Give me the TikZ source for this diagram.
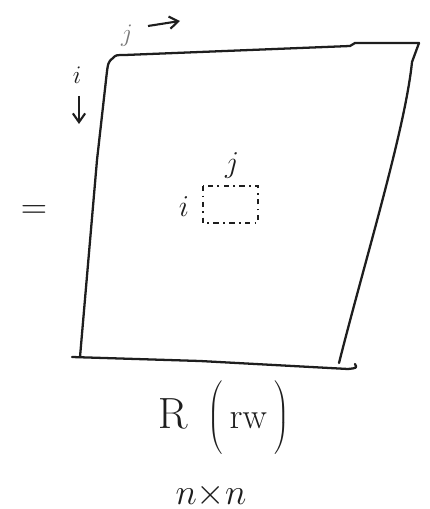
\documentclass[tikz,border=0pt]{standalone}
\usepackage{xcolor}
\definecolor{inkgray}{RGB}{30,30,30}
\definecolor{pencilgray}{RGB}{120,120,120}
\usepackage{tikz}
\usetikzlibrary{arrows.meta,positioning,calc}

\begin{document}
\begin{tikzpicture}[
  x=0.02cm, y=-0.02cm,
  ink/.style={draw=inkgray, line width=1.3pt, line cap=round, line join=round},
  arr/.style={-{Straight Barb[length=5pt,width=7pt]}, line width=1.2pt, color=inkgray},
  dbox/.style={draw=inkgray, line width=1.1pt, dash pattern=on 3pt off 2.5pt on 1pt off 2.5pt},
  lbl/.style={inner sep=0pt, text=inkgray}
]
\useasboundingbox (0,0) rectangle (429,509);

%% Matrix outline
\coordinate (tl) at (113,58);
\coordinate (tr) at (419,43);
\coordinate (br) at (339,363);
\coordinate (bl) at (80,357);
\draw[ink] (tl) .. controls (108,62) .. (106,80) -- (97,160) -- (bl);
\draw[ink] (tl) .. controls (116,55) .. (125,55) -- (350,46) -- (355,43) -- (tr);
\draw[ink] (tr) -- (412,62) .. controls (405,130) and (365,260) .. (br);
\draw[ink] (72,357) -- (200,361) -- (348,369) .. controls (357,368) .. (355,364);

%% Index labels at the corner
\node[lbl, text=pencilgray, font=\fontsize{15}{16}\selectfont] (jtop) at (127,36) {$j$};
\coordinate (jarrs) at (148,26);
\coordinate (jarre) at (180,21);
\draw[arr] (jarrs) -- (jarre);
\node[lbl, font=\fontsize{15}{16}\selectfont] (itop) at (77,75) {$i$};
\coordinate (iarrs) at (79,96);
\coordinate (iarre) at (79,124);
\draw[arr] (iarrs) -- (iarre);

%% Entry (i,j)
\draw[dbox] (203,186) rectangle (258,223);
\node[lbl, font=\fontsize{17}{18}\selectfont] (jin) at (232,166) {$j$};
\node[lbl, font=\fontsize{17}{18}\selectfont] (iin) at (184,207) {$i$};

%% Side mark
\node[lbl, font=\fontsize{20}{22}\selectfont] (eq) at (34,212) {$=$};

%% Caption
\node[lbl, font=\fontsize{28}{30}\selectfont] (cap) at (224,420)
  {$\mathrm{R}\;\left(\,\mathrm{\scriptstyle rw}\vphantom{\rule[-0.6cm]{0pt}{1.4cm}}\,\right)$};
\node[lbl, font=\fontsize{22}{24}\selectfont] (dims) at (211,495) {$n{\times}n$};

\end{tikzpicture}
\end{document}
